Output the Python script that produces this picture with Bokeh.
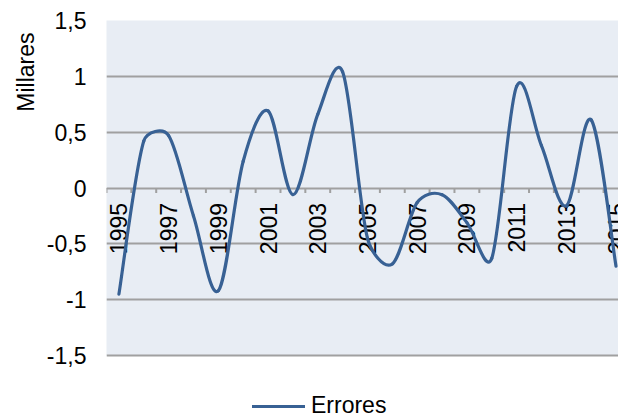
import numpy as np
from bokeh.plotting import figure
from bokeh.models import (Range1d, FixedTicker, CustomJSTickFormatter, Title,
                          Legend, LegendItem)
from bokeh.core.properties import value
from bokeh.embed import file_html
from bokeh.resources import INLINE

# Series: forecast errors (thousands) per year
years = list(range(1995, 2016))
errores = [-0.95, 0.42, 0.47, -0.25, -0.92, 0.24, 0.69, -0.06, 0.66, 1.04,
           -0.45, -0.68, -0.13, -0.06, -0.31, -0.63, 0.91, 0.38, -0.16, 0.61,
           -0.70]
y_ticks = [-1.5, -1.0, -0.5, 0.0, 0.5, 1.0, 1.5]
year_labels = years[::2]

FONT = "Liberation Sans"
FONT_SIZE = "23px"
LINE_COLOR = "#386194"
PLOT_BG = "#E8EDF4"

W, H = 618, 419
LEFT, TOP = 106, 20
AREA_H = 335          # height of the -1.5..1.5 plotting area in px
X0, X1 = 1994.5, 2015.1
Y0, Y1 = -1.5, 1.5

kx = (W - LEFT) / (X1 - X0)
ky = AREA_H / (Y1 - Y0)
# the frame runs down to the bottom edge so the legend can sit under the area
Y_BOTTOM = Y0 - (H - TOP - AREA_H) / ky

p = figure(width=W, height=H, output_backend="svg", toolbar_location=None,
           x_range=Range1d(X0, X1), y_range=Range1d(Y_BOTTOM, Y1),
           x_axis_location=None, min_border_left=LEFT, min_border_right=0,
           min_border_top=TOP, min_border_bottom=0)
p.background_fill_color = "white"
p.border_fill_color = "white"
p.outline_line_color = None

# shaded plotting area, drawn beneath the grid
p.quad(left=X0 - 1, right=X1 + 1, bottom=Y0, top=Y1 + 1,
       fill_color=PLOT_BG, line_color=None, level="image")

# y axis: no line or ticks, comma decimal labels
p.yaxis.ticker = FixedTicker(ticks=y_ticks)
p.yaxis.formatter = CustomJSTickFormatter(code="return tick.toString().replace('.', ',')")
p.yaxis.axis_line_color = None
p.yaxis.major_tick_line_color = None
p.yaxis.minor_tick_line_color = None
p.yaxis.major_tick_out = 0
p.yaxis.major_tick_in = 0
p.yaxis.major_label_standoff = 20
p.yaxis.major_label_text_font = FONT
p.yaxis.major_label_text_font_size = FONT_SIZE
p.yaxis.major_label_text_color = "black"

p.xgrid.visible = False
p.ygrid.ticker = FixedTicker(ticks=y_ticks)
p.ygrid.grid_line_color = "#A0A0A0"
p.ygrid.grid_line_width = 2

# category axis drawn on the zero line: boundary ticks and rotated year labels
bounds = [y - 0.5 for y in years]
p.segment(x0=bounds, y0=[0] * len(bounds), x1=bounds, y1=[-5.0 / ky] * len(bounds),
          line_color="#A0A0A0", line_width=2)
p.text(x=year_labels, y=[0] * len(year_labels), text=[str(y) for y in year_labels],
       angle=np.pi / 2, text_align="right", text_baseline="middle", y_offset=15,
       text_font=value(FONT), text_font_size=FONT_SIZE, text_color="black")


# smoothed line: cubic Bezier segments (Catmull-Rom tangents in screen space,
# control arm limited by the segment length to avoid overshoot)
def bezier_controls(xs, ys, cap=0.4):
    px = np.asarray(xs, float) * kx
    py = np.asarray(ys, float) * ky
    n = len(px)
    idx = np.arange(n)
    a = np.clip(idx - 1, 0, n - 1)
    b = np.clip(idx + 1, 0, n - 1)
    tx = (px[b] - px[a]) / 6.0
    ty = (py[b] - py[a]) / 6.0
    tlen = np.hypot(tx, ty)
    seg = np.hypot(np.diff(px), np.diff(py))

    def arm(i, s):
        scale = min(1.0, cap * s / tlen[i]) if tlen[i] > 0 else 0.0
        return tx[i] * scale, ty[i] * scale

    cx0, cy0, cx1, cy1 = [], [], [], []
    for i in range(n - 1):
        dx, dy = arm(i, seg[i])
        cx0.append((px[i] + dx) / kx)
        cy0.append((py[i] + dy) / ky)
        dx, dy = arm(i + 1, seg[i])
        cx1.append((px[i + 1] - dx) / kx)
        cy1.append((py[i + 1] - dy) / ky)
    return dict(x0=xs[:-1], y0=ys[:-1], x1=xs[1:], y1=ys[1:],
                cx0=cx0, cy0=cy0, cx1=cx1, cy1=cy1)


ctrl = bezier_controls(years, errores)
curve = p.bezier(line_color=LINE_COLOR, line_width=3.2, line_cap="round", **ctrl)

# unit title on the left, aligned towards the top
p.add_layout(Title(text="Millares", align="right", offset=12,
                   text_font=FONT, text_font_size=FONT_SIZE,
                   text_font_style="normal", text_color="black"), "left")

legend = Legend(items=[LegendItem(label="Errores", renderers=[curve])],
                location=(146, 0), orientation="horizontal",
                label_text_font=FONT, label_text_font_size=FONT_SIZE,
                label_text_color="black", glyph_width=53, glyph_height=22,
                label_standoff=6, padding=0, margin=0, spacing=0,
                border_line_alpha=0, background_fill_alpha=0)
p.add_layout(legend)

open("out.html", "w").write(file_html(p, INLINE))
